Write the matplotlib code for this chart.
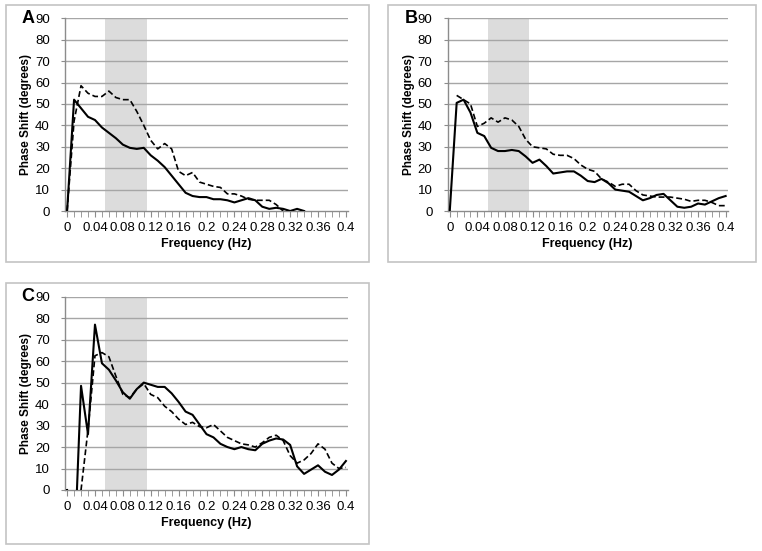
import matplotlib.pyplot as plt
import numpy as np
from matplotlib.patches import Rectangle

plt.rcParams['font.family'] = ['Liberation Sans', 'DejaVu Sans']

# frequency categories (Hz)
freq = [0.00, 0.01, 0.02, 0.03, 0.04, 0.05, 0.06, 0.07, 0.08, 0.09,
        0.10, 0.11, 0.12, 0.13, 0.14, 0.15, 0.16, 0.17, 0.18, 0.19,
        0.20, 0.21, 0.22, 0.23, 0.24, 0.25, 0.26, 0.27, 0.28, 0.29,
        0.30, 0.31, 0.32, 0.33, 0.34, 0.35, 0.36, 0.37, 0.38, 0.39, 0.40]

nan = np.nan

# panel A
a_solid = [0, 52, 48, 44, 42.5, 39, 36.5, 34, 31, 29.5,
           29, 29.5, 26, 23.5, 20.5, 16.5, 12.5, 8.5, 7, 6.5,
           6.5, 5.5, 5.5, 5, 4, 5, 6, 5, 2, 1,
           1.5, 1, 0, 1, 0, nan, nan, nan, nan, nan, nan]
a_dash = [0, 42, 58.5, 55, 53.5, 53.5, 56, 53, 52, 52,
          46.5, 40, 33, 29, 31.5, 29, 18.5, 16.5, 18, 13.5,
          12.5, 11.5, 11, 8, 8, 7, 5.5, 5, 5, 5,
          3, 0, nan, nan, nan, nan, nan, nan, nan, nan, nan]

# panel B
b_solid = [0, 50.5, 52, 46, 36.5, 35, 29.5, 28, 28, 28.5,
           28, 25.5, 22.5, 24, 21, 17.5, 18, 18.5, 18.5, 16.5,
           14, 13.5, 15, 13, 10, 9.5, 9, 7, 5, 6,
           7.5, 8, 5, 2, 1.5, 2, 3.5, 3, 4.5, 6, 7]
b_dash = [nan, 54, 52, 50, 39.5, 41, 43.5, 41.5, 43.5, 42.5,
          39.5, 33.5, 30, 29.5, 29, 26.5, 26, 26, 24.5, 21.5,
          19.5, 18.5, 15, 13.5, 11.5, 12.5, 12.5, 9.5, 7.5, 7,
          6.5, 6.5, 6.5, 6, 5.5, 4.5, 5, 5, 4, 2.5, 2.5]

# panel C
c_solid = [0, -34, 48.5, 26, 77, 59, 56, 51, 45.5, 42.5,
           47, 50, 49, 48, 48, 45, 41, 36.5, 35, 30.5,
           26, 24.5, 21.5, 20, 19, 20, 19, 18.5, 21.5, 23,
           24, 23.5, 21, 11, 7.5, 9.5, 11.5, 8.5, 7, 9.5, 13.5]
c_dash = [nan, -60, 0, 28, 62.5, 64, 62, 53, 44.5, 43,
          47, 49.5, 44.5, 43, 39, 36.5, 33, 30.5, 31.5, 29.5,
          29, 30.5, 27.5, 24.5, 23, 21.5, 21, 20, 22, 24.5,
          25.5, 23, 16, 12.5, 14, 17, 21.5, 19, 12.5, 10, 10.5]

xtick_vals = [0, 0.04, 0.08, 0.12, 0.16, 0.2, 0.24, 0.28, 0.32, 0.36, 0.4]
xtick_labels = ["0", "0.04", "0.08", "0.12", "0.16", "0.2", "0.24", "0.28", "0.32", "0.36", "0.4"]
ytick_vals = [0, 10, 20, 30, 40, 50, 60, 70, 80, 90]
band = (0.055, 0.115)

W, H = 762, 551


def px_rect(x0, y0, x1, y1):
    # pixel box (top-left origin) -> figure fraction rect
    return [x0 / W, 1 - y1 / H, (x1 - x0) / W, (y1 - y0) / H]


def draw_panel(fig, rect, solid, dash, letter):
    ax = fig.add_axes(rect)
    ax.axvspan(band[0], band[1], color="#dcdcdc", lw=0, zorder=0)
    for y in ytick_vals[1:]:
        ax.axhline(y, color="#a6a6a6", lw=1.0, zorder=1)
    ax.plot(freq, dash, color="black", lw=1.2, ls=(0, (3.5, 1.8)), zorder=3)
    ax.plot(freq, solid, color="black", lw=1.5, zorder=4)
    ax.set_xlim(-0.003, 0.403)
    ax.set_ylim(0, 90)
    ax.set_xticks(xtick_vals)
    ax.set_xticklabels(xtick_labels)
    ax.set_xticks(freq, minor=True)
    ax.set_yticks(ytick_vals)
    ax.tick_params(axis="x", which="both", direction="out", length=4,
                   color="#8c8c8c", labelsize=9.5, pad=4)
    ax.tick_params(axis="y", direction="out", length=3, color="#8c8c8c",
                   labelsize=9.5, pad=8)
    for s in ["top", "right"]:
        ax.spines[s].set_visible(False)
    for s in ["left", "bottom"]:
        ax.spines[s].set_color("#8c8c8c")
        ax.spines[s].set_linewidth(1.0)
    ax.set_xlabel("Frequency (Hz)", fontsize=9, fontweight="bold", labelpad=3)
    ax.set_ylabel("Phase Shift (degrees)", fontsize=8.5, fontweight="bold")
    ax.yaxis.set_label_coords(-0.118, 0.5)
    ax.text(-0.108, 1.0, letter, transform=ax.transAxes, fontsize=13,
            fontweight="bold", ha="right", va="center")
    return ax


fig = plt.figure(figsize=(W / 100, H / 100), dpi=100)

# panel frames
for box in [(6, 5, 369, 262), (388, 5, 756, 262), (6, 283, 369, 544)]:
    r = px_rect(*box)
    fig.add_artist(Rectangle((r[0], r[1]), r[2], r[3], transform=fig.transFigure,
                             fill=False, edgecolor="#c4c4c4", lw=1.2))

draw_panel(fig, px_rect(65, 18.3, 348, 211), a_solid, a_dash, "A")
draw_panel(fig, px_rect(447.7, 18.3, 727.7, 211), b_solid, b_dash, "B")
draw_panel(fig, px_rect(65, 296.7, 348, 490), c_solid, c_dash, "C")

plt.savefig("out.png", dpi=100)
